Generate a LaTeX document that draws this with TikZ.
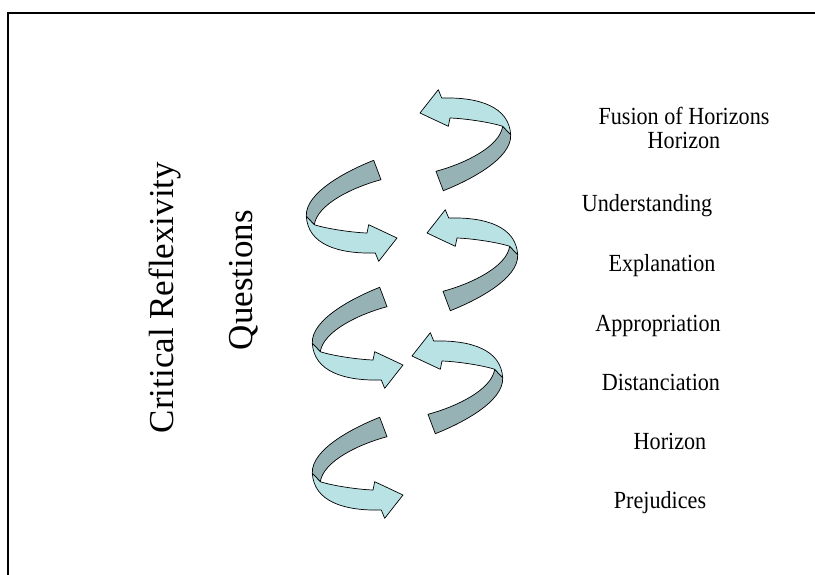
\documentclass[tikz,border=0pt]{standalone}
\usepackage{fontspec}
\setmainfont{Liberation Serif}
\definecolor{bandDark}{RGB}{150,178,181}
\definecolor{bandLight}{RGB}{185,226,229}
\newcommand\narrowtxt[1]{\scalebox{0.9}[1]{#1}}
\tikzset{
  darkband/.style={fill=bandDark, draw=black, line width=0.7pt, line join=round},
  lightband/.style={fill=bandLight, draw=black, line width=0.7pt, line join=round},
  lbl/.style={font=\fontsize{24.6}{26}\selectfont, anchor=base, inner sep=0pt},
  vlbl/.style={font=\fontsize{35}{40}\selectfont, anchor=base, rotate=90, inner sep=0pt},
  frameline/.style={line width=2pt},
  pics/twistarrow/.style={code={
    \draw[darkband] (-23.3,-77.7) .. controls (-48,-68) and (-92,-46) .. (-90.7,-21.7)
      -- (-82.7,-13.3) .. controls (-79.7,-33.3) and (-46,-50.2) .. (-16,-58.3) -- cycle;
    \draw[lightband] (-90.7,-21.7) .. controls (-89,6) and (-60,16) .. (-21.7,15)
      -- (-18.3,23.3) -- (0,0) -- (-28.3,-13.3) -- (-30,-5)
      .. controls (-45,-5.5) and (-70.7,-9.3) .. (-82.7,-13.3) -- cycle;
  }}
}
\begin{document}
\begin{tikzpicture}[x=1pt,y=-1pt]
  \useasboundingbox (0,0) rectangle (815,574);
  \fill[white] (0,0) rectangle (815,574);
  \draw[frameline] (8.3,580) -- (8.3,13) -- (820,13);

  % left column arrows (pointing right)
  \pic at (397,238) {twistarrow};
  \pic at (403,365) {twistarrow};
  \pic at (403,495) {twistarrow};
  % right column arrows (pointing left)
  \pic[rotate=180] at (420,113) {twistarrow};
  \pic[rotate=180] at (427,233) {twistarrow};
  \pic[rotate=180] at (412,356) {twistarrow};

  \node[lbl] (fusion) at (684,124) {\narrowtxt{Fusion of Horizons}};
  \node[lbl] (horizonA) at (684,148) {\narrowtxt{Horizon}};
  \node[lbl] (underst) at (647,211.7) {\narrowtxt{Understanding}};
  \node[lbl] (expl) at (662,271) {\narrowtxt{Explanation}};
  \node[lbl] (approp) at (658,331) {\narrowtxt{Appropriation}};
  \node[lbl] (distan) at (661,390) {\narrowtxt{Distanciation}};
  \node[lbl] (horizonB) at (670,449) {\narrowtxt{Horizon}};
  \node[lbl] (prej) at (660,508) {\narrowtxt{Prejudices}};

  \node[vlbl] (critical) at (173,297.5) {Critical Reflexivity};
  \node[vlbl] (questions) at (252,280) {Questions};
\end{tikzpicture}
\end{document}
